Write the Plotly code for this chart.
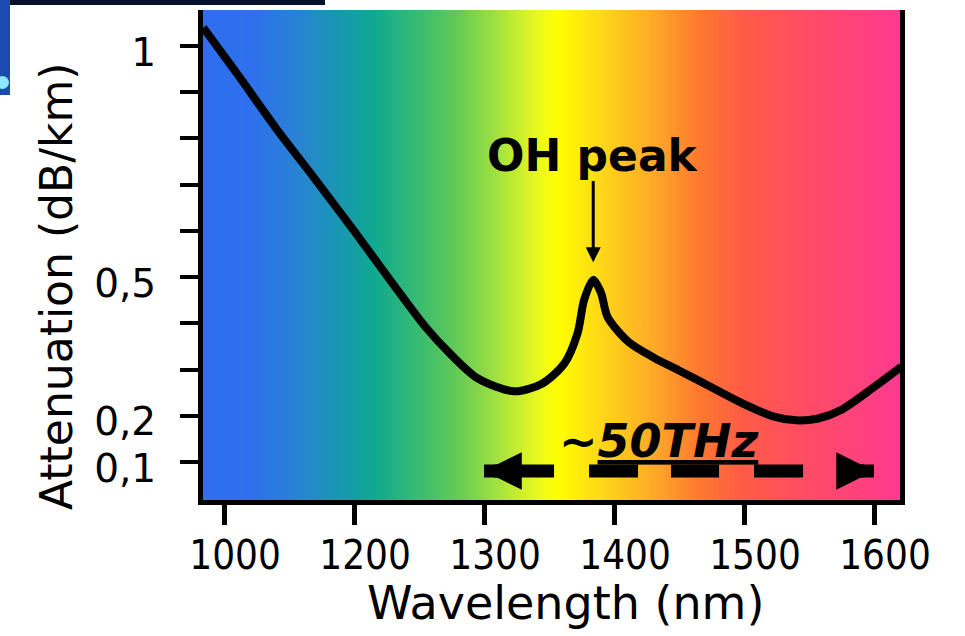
import numpy as np
import plotly.graph_objects as go

# ---------------- data ----------------
WAVELENGTH_NM = [1084, 1110, 1140, 1170, 1200, 1230, 1255, 1275, 1295, 1323, 1345,
                 1362, 1372, 1377, 1384, 1390, 1395, 1411, 1431, 1450, 1472, 1498,
                 1523, 1540, 1557, 1575, 1600, 1621]
ATTENUATION_DB_KM = [1.04, 0.94, 0.822, 0.712, 0.600, 0.485, 0.392, 0.331, 0.281, 0.253, 0.270,
                     0.314, 0.379, 0.451, 0.494, 0.466, 0.414, 0.360, 0.325, 0.298, 0.266, 0.228,
                     0.198, 0.190, 0.194, 0.213, 0.262, 0.306]

X_TICK_POS = [1100, 1200, 1300, 1400, 1500, 1600]
X_TICK_LABELS = ["1000", "1200", "1300", "1400", "1500", "1600"]
Y_TICK_POS = [0.1, 0.2, 0.3, 0.4, 0.5, 0.6, 0.7, 0.8, 0.9, 1.0]
Y_TICK_LABELS = ["0,1", "0,2", "", "", "0,5", "", "", "", "", "1"]

OH_PEAK_NM = 1384
OH_PEAK_DB = 0.532
OH_LABEL_DB = 0.764
BAND_NM = [1300, 1600]
BAND_DB = 0.0805
BAND_LABEL_NM = 1434
BAND_LABEL_DB = 0.145

X_RANGE = [1083.8, 1620.0]
Y_RANGE = [0.0177, 1.0779]

SPECTRUM = [
    [0.00, "#2e6ef0"], [0.07, "#2e70ec"], [0.126, "#2a80d8"], [0.19, "#1a95b5"],
    [0.244, "#10a890"], [0.296, "#30b878"], [0.36, "#60c858"], [0.42, "#a0e040"],
    [0.478, "#e8f820"], [0.51, "#ffff00"], [0.57, "#ffd818"], [0.648, "#ffa828"],
    [0.713, "#ff7830"], [0.778, "#ff5a48"], [0.877, "#ff4a68"], [1.00, "#ff3a90"],
]

FONT = "DejaVu Sans, Verdana, sans-serif"
FONT_COND = "DejaVu Sans Condensed, DejaVu Sans, sans-serif"

# ---------------- layout geometry ----------------
W, H = 965, 636
ML, MR, MT, MB = 203, 65, 10, 136
PW, PH = W - ML - MR, H - MT - MB


def px_x(px):
    return (px - ML) / PW


def px_y(py):
    return (H - MB - py) / PH


fig = go.Figure()

# spectrum background
N = 350
xe = np.linspace(X_RANGE[0], X_RANGE[1], N + 1)
zc = ((xe[:-1] + xe[1:]) / 2 - X_RANGE[0]) / (X_RANGE[1] - X_RANGE[0])
fig.add_trace(go.Heatmap(x=xe, y=Y_RANGE, z=[zc], colorscale=SPECTRUM, zmin=0, zmax=1,
                         showscale=False, hoverinfo="skip"))

# attenuation curve
fig.add_trace(go.Scatter(x=WAVELENGTH_NM, y=ATTENUATION_DB_KM, mode="lines",
                         line=dict(color="black", width=8, shape="spline", smoothing=0.8),
                         hoverinfo="skip", showlegend=False))

# dashed band line
fig.add_trace(go.Scatter(x=BAND_NM, y=[BAND_DB, BAND_DB], mode="lines",
                         line=dict(color="black", width=13,
                                   dash="70px,35px,49px,33px,48px,35px,49px,34px,60px"),
                         hoverinfo="skip", showlegend=False))

annotations = [
    # OH peak label + arrow
    dict(x=OH_PEAK_NM, y=OH_PEAK_DB, ax=OH_PEAK_NM, ay=OH_LABEL_DB, axref="x", ayref="y",
         xref="x", yref="y", text="OH peak", showarrow=True, arrowhead=2, arrowsize=1,
         arrowwidth=3, arrowcolor="black", borderpad=0,
         font=dict(family=FONT, size=44, color="black", weight="bold")),
    # band arrowheads
    dict(x=BAND_NM[0], y=BAND_DB, xref="x", yref="y", ax=30, ay=0, text="",
         showarrow=True, arrowhead=2, arrowsize=0.58, arrowwidth=13, arrowcolor="black"),
    dict(x=BAND_NM[1], y=BAND_DB, xref="x", yref="y", ax=-30, ay=0, text="",
         showarrow=True, arrowhead=2, arrowsize=0.58, arrowwidth=13, arrowcolor="black"),
    # band label
    dict(x=BAND_LABEL_NM, y=BAND_LABEL_DB, xref="x", yref="y", text="~<u>50THz</u>",
         showarrow=False,
         font=dict(family=FONT, size=46, color="black", weight="bold", style="italic")),
    # axis titles
    dict(x=px_x(565), y=px_y(603), xref="paper", yref="paper", text="Wavelength (nm)",
         xanchor="center", yanchor="middle",
         showarrow=False, font=dict(family=FONT, size=46, color="black")),
    dict(x=px_x(56), y=px_y(286), xref="paper", yref="paper", text="Attenuation (dB/km)",
         xanchor="center", yanchor="middle",
         textangle=-90, showarrow=False, font=dict(family=FONT, size=44, color="black")),
]

shapes = [
    dict(type="rect", xref="paper", yref="paper", x0=px_x(0), x1=px_x(325), y0=px_y(5), y1=px_y(0),
         fillcolor="#07102a", line=dict(width=0), layer="above"),
    dict(type="rect", xref="paper", yref="paper", x0=px_x(0), x1=px_x(10), y0=px_y(95), y1=px_y(0),
         fillcolor="#1b4ab0", line=dict(width=0), layer="above"),
    dict(type="circle", xref="paper", yref="paper", x0=px_x(-4), x1=px_x(9), y0=px_y(89), y1=px_y(76),
         fillcolor="#8ee6ff", line=dict(width=0), layer="above"),
]

fig.update_layout(
    width=W, height=H,
    margin=dict(l=ML, r=MR, t=MT, b=MB, pad=0),
    paper_bgcolor="white", plot_bgcolor="white",
    showlegend=False,
    annotations=annotations, shapes=shapes,
    font=dict(family=FONT, color="black"),
    xaxis=dict(range=X_RANGE, tickvals=X_TICK_POS, ticktext=X_TICK_LABELS,
               showline=True, linewidth=5, linecolor="black", mirror=False,
               ticks="outside", ticklen=20, tickwidth=5, tickcolor="black",
               showgrid=False, zeroline=False, layer="above traces",
               tickfont=dict(family=FONT_COND, size=40, color="black"),
               ticklabelshift=11, ticklabelstandoff=-4),
    yaxis=dict(range=Y_RANGE, tickvals=Y_TICK_POS, ticktext=Y_TICK_LABELS,
               showline=True, linewidth=5, linecolor="black", mirror=True,
               ticks="outside", ticklen=18, tickwidth=4, tickcolor="black",
               showgrid=False, zeroline=False, layer="above traces",
               tickfont=dict(family=FONT, size=39, color="black"),
               ticklabelshift=6, ticklabelstandoff=16),
)

fig.write_html("out.html")
